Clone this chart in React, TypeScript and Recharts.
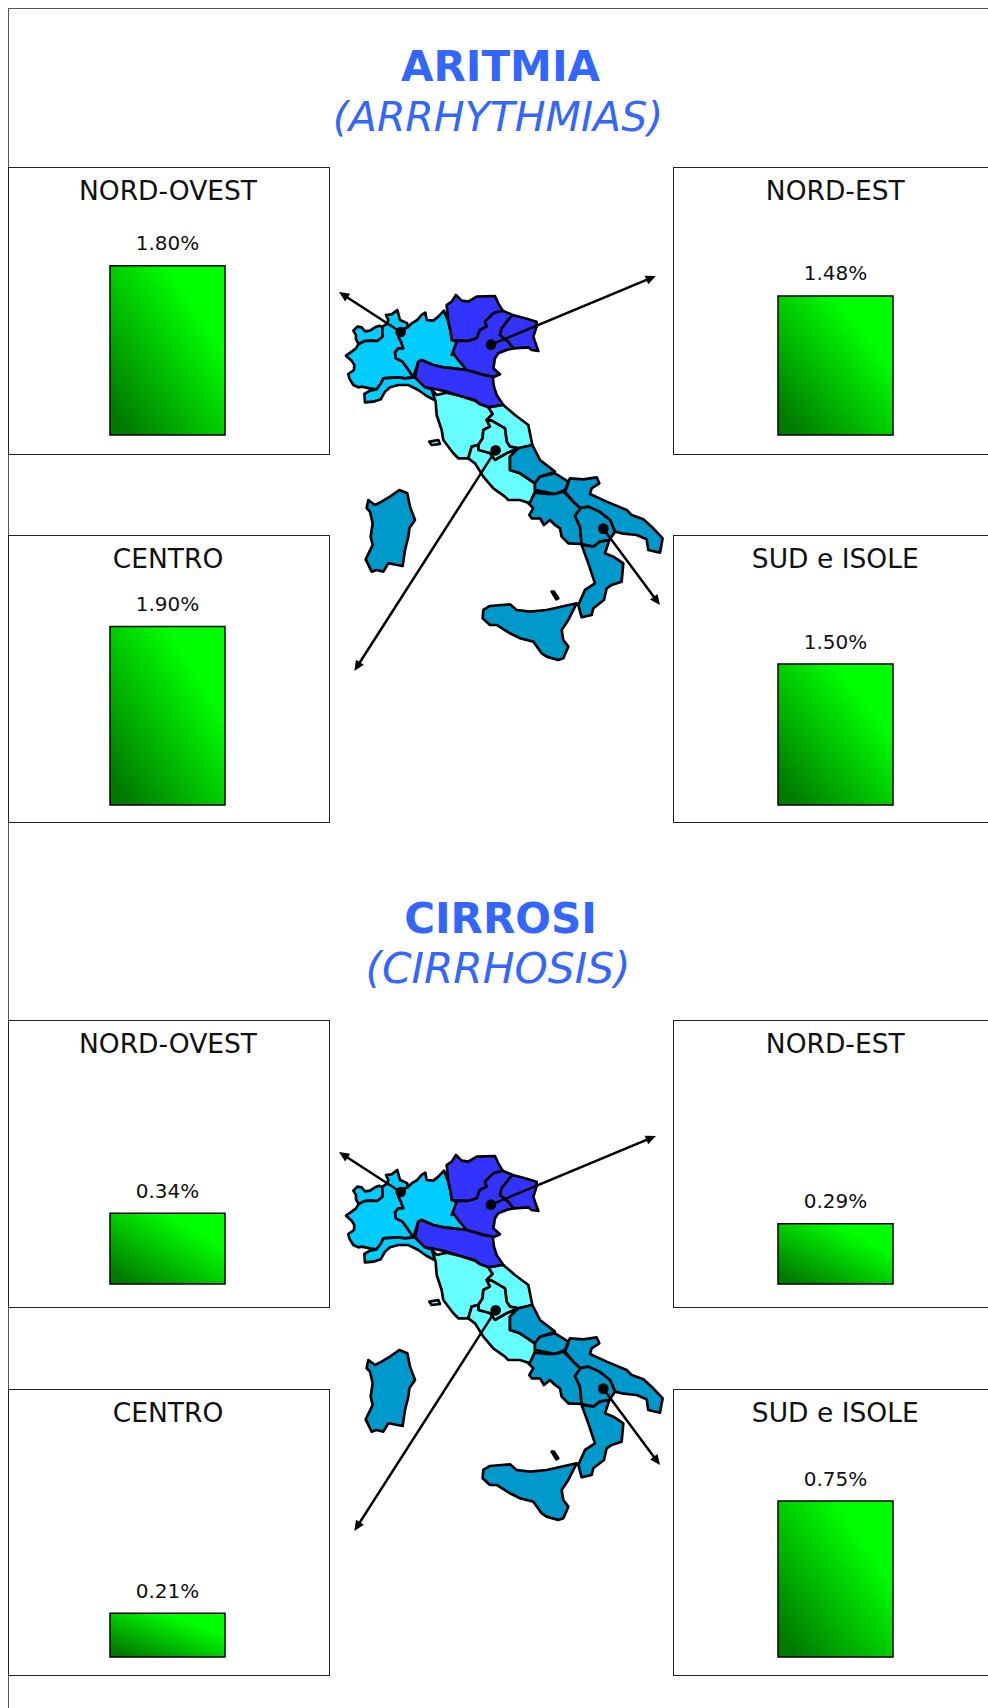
import { BarChart, Bar, XAxis, YAxis, LabelList } from "recharts"

// data
const regions = ["NORD-OVEST", "NORD-EST", "CENTRO", "SUD e ISOLE"]
const aritmia = [1.8, 1.48, 1.9, 1.5]
const cirrosi = [0.34, 0.29, 0.21, 0.75]

const FONT = '"DejaVu Sans", Verdana, sans-serif'
const BLUE = "#3366ff"
const C1 = "#3333ff"
const C2 = "#00ccff"
const C3 = "#66ffff"
const C4 = "#0099cc"

// panel boxes: x, top, width, height, space under the bar
const P_LEFT = 8
const P_RIGHT = 673
const BAR_W = 114.5

function Panel(p: { name: string; value: number; x: number; y: number; h: number; under: number; axisMax: number; pxPerUnit: number }) {
  const w = p.x === P_LEFT ? 322 : 330
  const barX = p.x === P_LEFT ? 102 : 105
  const plotH = p.axisMax * p.pxPerUnit
  const rows = [{ name: p.name, value: p.value }]
  return (
    <div style={{ position: "absolute", left: p.x, top: p.y, width: w, height: p.h, boxSizing: "border-box", border: "1.5px solid #222", borderRight: p.x === P_LEFT ? "1.5px solid #222" : "none", background: "#fff" }}>
      <div style={{ position: "absolute", left: 0, width: p.x === P_LEFT ? 318 : barX * 2 + BAR_W - 2, top: 7, textAlign: "center", fontFamily: FONT, fontSize: 26.5, color: "#111", lineHeight: "32px", whiteSpace: "nowrap" }}>{p.name}</div>
      <div style={{ position: "absolute", left: -1.5, top: -1.5 }}>
        <BarChart
          width={w}
          height={p.h}
          data={rows}
          barCategoryGap={0}
          margin={{ left: barX, right: w - barX - BAR_W, bottom: p.under, top: p.h - p.under - plotH }}
        >
          <defs>
            <linearGradient id="barGreen" x1="0" y1="1" x2="1" y2="0">
              <stop offset="0.08" stopColor="#007a00" />
              <stop offset="0.75" stopColor="#00ff00" />
            </linearGradient>
          </defs>
          <XAxis dataKey="name" hide />
          <YAxis hide domain={[0, p.axisMax]} />
          <Bar dataKey="value" fill="url(#barGreen)" stroke="#000" strokeWidth={1.5} isAnimationActive={false}>
            <LabelList
              dataKey="value"
              position="top"
              offset={15.5}
              formatter={(v: any) => `${Number(v).toFixed(2)}%`}
              style={{ fontFamily: FONT, fontSize: 20, fill: "#111" }}
            />
          </Bar>
        </BarChart>
      </div>
    </div>
  )
}

// outline of the map, traced at 3x around (320,270)
const shapes: [string, string][] = [
  [C2, "100,182 112,170 125,172 135,184 150,182 165,172 178,167 187,172 188,200 172,213 150,212 135,213 116,222 108,208 108,195"],
  [C2, "116,222 135,213 150,212 172,213 188,200 187,170 200,162 205,150 198,135 215,133 232,120 240,150 252,155 262,160 263,172 250,178 240,190 235,200 243,215 250,235 235,235 225,247 228,265 248,275 262,295 280,322 255,325 235,322 190,325 183,340 170,358 150,355 125,350 115,352 100,345 88,325 85,312 102,300 103,285 95,272 78,257 95,245 108,235"],
  [C2, "133,372 150,362 170,358 183,340 190,325 235,322 255,325 285,322 315,352 335,358 347,392 320,378 295,360 265,345 235,345 210,352 195,365 182,388 160,395 135,397"],
  [C2, "250,235 243,215 235,200 240,190 250,178 263,172 275,160 292,150 305,135 316,128 320,150 340,152 355,140 372,122 385,155 392,185 395,210 410,215 400,250 415,270 440,300 400,295 370,292 340,285 305,270 295,275 280,322 262,295 248,275 228,265 225,247 235,235"],
  [C1, "380,105 395,95 408,75 425,92 445,95 470,80 525,78 535,100 548,122 520,130 495,155 500,170 480,180 470,205 445,213 420,212 395,210 392,185 385,155"],
  [C1, "395,255 410,215 420,212 445,213 470,205 480,180 500,170 495,155 520,130 548,122 578,135 565,150 545,175 540,195 565,215 580,235 560,240 535,250 525,265 520,295 540,313 520,322 440,300 415,270 400,250"],
  [C1, "578,135 615,145 650,155 650,170 640,200 645,215 655,243 635,240 625,232 580,235 565,215 540,195 545,175 565,150"],
  [C1, "295,275 305,270 340,285 370,292 400,295 440,300 490,315 518,320 522,350 530,375 550,405 505,412 480,403 465,390 420,378 380,365 335,355 315,352 285,322"],
  [C3, "335,358 350,375 380,368 420,378 465,392 480,403 505,412 518,432 500,450 510,470 490,480 488,505 475,525 455,530 445,565 415,565 400,550 370,510 365,480 350,435 347,395"],
  [C3, "505,412 550,405 585,435 625,465 637,525 595,535 570,530 560,515 555,475 515,452 500,450 518,432"],
  [C3, "500,450 515,452 555,475 560,515 570,530 595,535 560,550 525,570 510,550 475,540 475,525 488,505 490,480 510,470"],
  [C3, "445,565 455,530 475,525 475,540 510,550 525,570 560,550 595,535 570,560 570,600 600,610 645,640 645,665 630,700 600,690 565,690 555,680 520,655 490,620 465,580"],
  [C4, "595,535 637,525 660,570 705,605 660,620 645,640 600,610 570,600 570,560"],
  [C4, "660,620 705,610 745,635 735,660 705,672 670,665 645,660 645,640"],
  [C4, "630,698 645,668 680,672 705,672 730,665 760,695 782,715 765,738 780,770 785,822 745,820 725,800 720,775 705,765 690,750 672,765 660,745 635,745 628,735 640,715 625,700"],
  [C4, "745,635 750,625 790,628 830,622 838,640 815,655 810,672 860,695 920,720 935,735 970,748 1000,775 1028,805 1020,848 985,840 980,808 950,795 905,790 885,785 870,750 838,725 805,710 782,715 760,695 735,665 745,640"],
  [C4, "782,715 805,710 838,725 870,750 885,785 868,810 840,815 820,830 785,822 780,770 765,738"],
  [C4, "785,825 820,830 840,815 868,810 855,850 880,860 910,880 905,935 875,945 860,955 852,990 820,1015 815,1035 785,1042 775,1005 795,960 825,940 815,910 805,880"],
  [C4, "488,1045 490,1020 510,1008 545,1005 570,1003 590,1020 630,1025 680,1020 770,1000 745,1050 725,1080 730,1110 745,1130 730,1165 715,1170 680,1160 665,1150 640,1115 600,1105 570,1090 530,1065 510,1065"],
  [C4, "140,715 145,690 165,705 185,695 210,680 238,660 262,670 270,710 285,750 268,775 265,800 255,840 248,888 205,880 190,905 170,900 155,905 137,868 158,825 152,800 158,760 150,725"],
  [C3, "328,515 355,510 360,522 335,525"],
  ["#000", "695,965 702,965 715,985 709,988"],
]

const pointers = [
  [242, 186, 57, 66],
  [513, 224, 1008, 18],
  [527, 541, 103, 1203],
  [850, 776, 1020, 1005],
]

function ItalyMap({ dy }: { dy: number }) {
  return (
    <g transform={`translate(320,${270 + dy}) scale(0.3333)`}>
      {shapes.map(([fill, pts], i) => (
        <polygon key={i} points={pts} fill={fill} stroke="#000" strokeWidth={8} strokeLinejoin="round" />
      ))}
      {pointers.map(([x1, y1, x2, y2], i) => {
        const a = Math.atan2(y2 - y1, x2 - x1)
        const head = (da: number, r: number) => `${x2 - r * Math.cos(a + da)},${y2 - r * Math.sin(a + da)}`
        return (
          <g key={i}>
            <line x1={x1} y1={y1} x2={x2 - 15 * Math.cos(a)} y2={y2 - 15 * Math.sin(a)} stroke="#000" strokeWidth={7.5} />
            <polygon points={`${x2},${y2} ${head(0.42, 34)} ${head(-0.42, 34)}`} fill="#000" />
            <circle cx={x1} cy={y1} r={16} fill="#000" />
          </g>
        )
      })}
    </g>
  )
}

function Heading({ main, sub, y, subSize }: { main: string; sub: string; y: number; subSize: number }) {
  return (
    <>
      <text x={500.5} y={y} textAnchor="middle" fontFamily={FONT} fontWeight="bold" fontSize={42} fill={BLUE}>{main}</text>
      <text x={498} y={y + 50} textAnchor="middle" fontFamily={FONT} fontStyle="italic" fontSize={subSize} fill={BLUE}>{sub}</text>
    </>
  )
}

export default function App() {
  const A = { axisMax: 2.4, pxPerUnit: 94 }
  const B = { axisMax: 1, pxPerUnit: 208 }
  return (
    <div style={{ position: "absolute", left: 0, top: 0, width: 988, height: 1708, overflow: "hidden", background: "#fff" }}>
      <div style={{ position: "absolute", left: 8, top: 8, width: 990, height: 1710, border: "1.5px solid #555" }} />
      <Panel name={regions[0]} value={aritmia[0]} x={P_LEFT} y={167} h={288} under={20} {...A} />
      <Panel name={regions[1]} value={aritmia[1]} x={P_RIGHT} y={167} h={288} under={20} {...A} />
      <Panel name={regions[2]} value={aritmia[2]} x={P_LEFT} y={535} h={288} under={18} {...A} />
      <Panel name={regions[3]} value={aritmia[3]} x={P_RIGHT} y={535} h={288} under={18} {...A} />
      <Panel name={regions[0]} value={cirrosi[0]} x={P_LEFT} y={1020} h={288} under={24} {...B} />
      <Panel name={regions[1]} value={cirrosi[1]} x={P_RIGHT} y={1020} h={288} under={24} {...B} />
      <Panel name={regions[2]} value={cirrosi[2]} x={P_LEFT} y={1389} h={287} under={19} {...B} />
      <Panel name={regions[3]} value={cirrosi[3]} x={P_RIGHT} y={1389} h={287} under={19} {...B} />
      <svg width={988} height={1708} style={{ position: "absolute", left: 0, top: 0 }}>
        <Heading main="ARITMIA" sub="(ARRHYTHMIAS)" y={81} subSize={41} />
        <Heading main="CIRROSI" sub="(CIRRHOSIS)" y={933} subSize={42.3} />
        <ItalyMap dy={0} />
        <ItalyMap dy={860} />
      </svg>
    </div>
  )
}
